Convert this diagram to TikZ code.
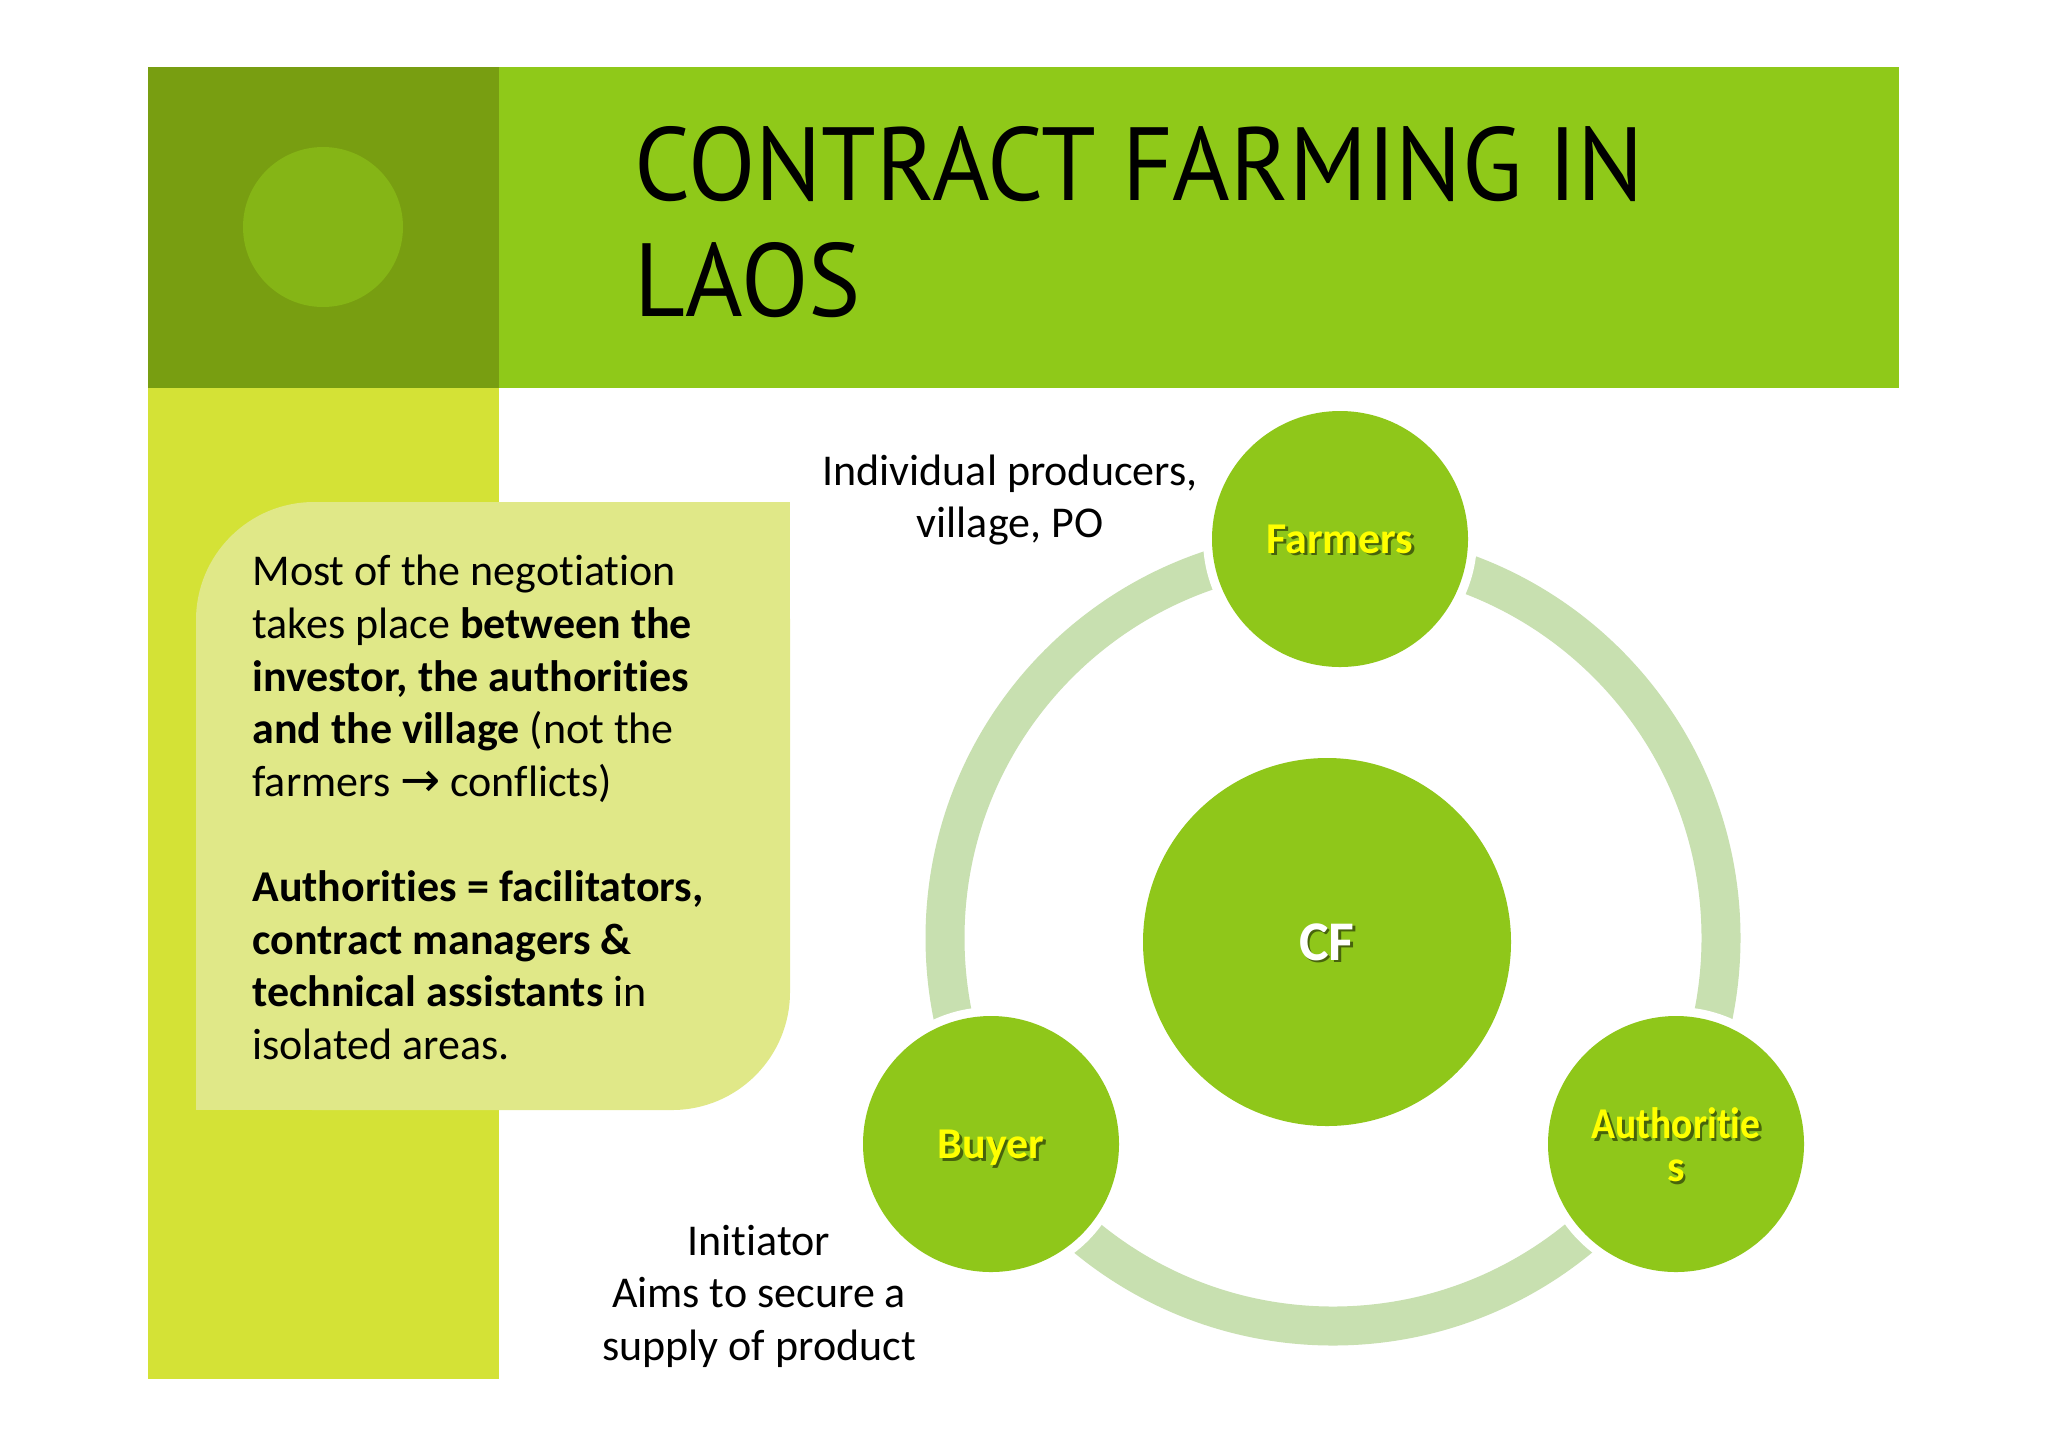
\documentclass[tikz,border=0pt]{standalone}
\usepackage{fontspec}
\setmainfont{Carlito}[Ligatures={NoCommon}]
\newfontfamily\titlefont{PT Sans}
\newfontfamily\symfont{DejaVu Sans}
\definecolor{darksq}{RGB}{120,158,17}
\definecolor{titlebar}{RGB}{143,201,25}
\definecolor{innercirc}{RGB}{133,181,22}
\definecolor{leftcol}{RGB}{212,226,54}
\definecolor{boxfill}{RGB}{224,232,136}
\definecolor{ringcol}{RGB}{200,224,176}
\definecolor{nodegreen}{RGB}{143,199,26}
\definecolor{labelyellow}{RGB}{255,255,0}
\begin{document}
\begin{tikzpicture}[x=0.5pt,y=-0.5pt,
  titletext/.style={font=\titlefont\fontsize{52}{57}\selectfont, inner sep=0pt, text=black},
  bodytext/.style={font=\fontsize{22}{26.3}\selectfont, inner sep=0pt, text=black},
  bubble/.style={circle, fill=nodegreen, inner sep=0pt, minimum size=128pt},
  bigbubble/.style={circle, fill=nodegreen, inner sep=0pt, minimum size=184pt},
  halo/.style={fill=white},
  lbl/.style={font=\bfseries\fontsize{22}{21.5}\selectfont, text=labelyellow, align=center, inner sep=0pt},
  lblshadow/.style={font=\bfseries\fontsize{22}{21.5}\selectfont, text=black, opacity=0.5, align=center, inner sep=0pt, xshift=1.3pt, yshift=-1.3pt}
]
\useasboundingbox (0,0) rectangle (2048,1447);
\fill[white] (0,0) rectangle (2048,1447);
% header blocks
\fill[darksq] (148,67) rectangle (499,388);
\fill[titlebar] (499,67) rectangle (1899,388);
\fill[leftcol] (148,388) rectangle (499,1379);
\fill[innercirc] (323,227) circle[radius=80];
% title
\node[titletext, anchor=base west] (t1) at (634,200) {\scalebox{0.947}[1]{CONTRACT FARMING IN}};
\node[titletext, anchor=base west] (t2) at (634,316) {\scalebox{0.947}[1]{LAOS}};
% text box
\fill[boxfill, rounded corners=59pt] (196,502) rectangle (790,1110);
\fill[boxfill] (196,960) rectangle (360,1110);
\fill[boxfill] (640,502) rectangle (790,660);
\node[bodytext, anchor=north west, align=left] (boxtext) at (252,555) {%
Most of the negotiation\\
takes place \textbf{between the}\\
\textbf{investor, the authorities}\\
\textbf{and the village} (not the\\
farmers {\symfont\fontsize{24}{26.3}\selectfont →} conflicts)\\[26.3pt]
\textbf{Authorities = facilitators,}\\
\textbf{contract managers \&}\\
\textbf{technical assistants} in\\
isolated areas.};
% ring
\draw[ringcol, line width=19.5pt] (1333,938) circle[radius=388];
% halos
\fill[halo] (1340,539) circle[radius=137];
\fill[halo] (991,1144) circle[radius=137];
\fill[halo] (1676,1144) circle[radius=137];
% circles
\node[bubble] (farmers) at (1340,539) {};
\node[bubble] (buyer) at (991,1144) {};
\node[bubble] (auth) at (1676,1144) {};
\node[bigbubble] (cf) at (1327,942) {};
% circle labels
\node[lblshadow] (farmersS) at (farmers.center) {Farmers};
\node[lbl] (farmersL) at (farmers.center) {Farmers};
\node[lblshadow] (buyerS) at (991,1148) {Buyer};
\node[lbl] (buyerL) at (991,1148) {Buyer};
\node[lblshadow] (authS) at (1676,1145) {\scalebox{0.9}[1]{Authoritie}\\s};
\node[lbl] (authL) at (1676,1145) {\scalebox{0.9}[1]{Authoritie}\\s};
\node[lblshadow, font=\bfseries\fontsize{28}{30}\selectfont] (cfS) at (cf.center) {CF};
\node[lbl, text=white, font=\bfseries\fontsize{28}{30}\selectfont] (cfL) at (cf.center) {CF};
% side labels
\node[bodytext, align=center] (indiv) at (1010,500) {Individual producers,\\village, PO};
\node[bodytext, align=center] (init) at (759,1296) {Initiator\\Aims to secure a\\supply of product};
\end{tikzpicture}
\end{document}
